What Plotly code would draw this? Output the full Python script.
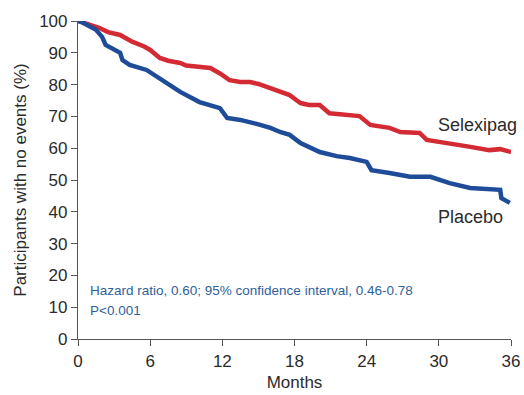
import plotly.graph_objects as go

months_sel = [0, 0.5, 1, 1.8, 2.5, 3.5, 4.5, 5.5, 6, 6.8, 7.5, 8.5, 9, 10, 11, 11.8, 12.6, 13.5, 14.3, 15, 16, 17, 17.6, 18.2, 18.5, 19.2, 20.1, 20.9, 22, 23.4, 24.3, 25.9, 26.8, 28.4, 29, 30.9, 32.5, 34.2, 35.1, 36]
surv_sel = [100, 99.5, 98.8, 97.8, 96.5, 95.6, 93.5, 92, 90.9, 88.4, 87.5, 86.8, 86, 85.6, 85.2, 83.5, 81.4, 80.8, 80.8, 80.2, 78.9, 77.8, 76.7, 75, 74.2, 73.6, 73.6, 71, 70.5, 70.1, 67.3, 66.4, 65.1, 64.8, 62.6, 61.6, 60.5, 59.4, 59.7, 58.8]

months_pla = [0, 0.3, 1.5, 2, 2.3, 3.5, 3.7, 4.3, 5.7, 6.8, 7.6, 8.5, 10.1, 11.8, 12.4, 13.5, 15, 16, 16.8, 17.6, 18.5, 20.1, 21.5, 22.6, 24, 24.4, 25.9, 27.6, 29.3, 30.9, 32.6, 35.1, 35.2, 35.9]
surv_pla = [100, 99.7, 97.2, 95, 92.5, 90, 87.7, 86.2, 84.6, 82, 79.9, 77.7, 74.5, 72.6, 69.5, 68.9, 67.5, 66.4, 65.1, 64.2, 61.6, 58.8, 57.5, 56.9, 55.7, 53.1, 52.2, 51, 51, 49, 47.5, 46.9, 44.3, 42.8]

x_ticks = [0, 6, 12, 18, 24, 30, 36]
y_ticks = list(range(0, 101, 10))

RED = "#d42a33"
BLUE = "#1f4c99"
FONT = "Liberation Sans, Arial, sans-serif"

fig = go.Figure()
fig.add_trace(go.Scatter(x=months_sel, y=surv_sel, mode="lines", name="Selexipag",
                         line=dict(color=RED, width=4.5)))
fig.add_trace(go.Scatter(x=months_pla, y=surv_pla, mode="lines", name="Placebo",
                         line=dict(color=BLUE, width=4.5)))

fig.add_annotation(x=33.25, y=67.3, text="Selexipag", showarrow=False,
                   font=dict(size=18, color="#2b2b2b", family=FONT))
fig.add_annotation(x=32.6, y=38.4, text="Placebo", showarrow=False,
                   font=dict(size=18, color="#2b2b2b", family=FONT))
fig.add_annotation(x=0.83, y=15.1, text="Hazard ratio, 0.60; 95% confidence interval, 0.46-0.78",
                   showarrow=False, xanchor="left", font=dict(size=13.5, color="#2f5f9a", family=FONT))
fig.add_annotation(x=0.83, y=9.1, text="P<0.001", showarrow=False, xanchor="left",
                   font=dict(size=13.5, color="#2f5f9a", family=FONT))

fig.update_layout(
    width=524, height=395,
    margin=dict(l=78, r=13, t=21, b=56, autoexpand=False),
    paper_bgcolor="white", plot_bgcolor="white",
    showlegend=False,
    font=dict(family=FONT, size=17, color="#2b2b2b"),
    xaxis=dict(range=[0, 36], tickvals=x_ticks, ticks="outside", ticklen=6, tickcolor="#555",
               showline=True, linecolor="#555", linewidth=1.2, showgrid=False, zeroline=False,
               automargin=False,
               title=dict(text="Months", font=dict(size=17), standoff=6),
               tickfont=dict(size=17)),
    yaxis=dict(range=[0, 100], tickvals=y_ticks, ticks="outside", ticklen=6, tickcolor="#555",
               showline=True, linecolor="#555", linewidth=1.2, showgrid=False, zeroline=False,
               automargin=False,
               title=dict(text="Participants with no events (%)", font=dict(size=17), standoff=8),
               tickfont=dict(size=17)),
)

fig.write_html("out.html", config={"displayModeBar": False},
               post_script="document.body.style.margin='0';document.body.style.overflow='hidden';")
